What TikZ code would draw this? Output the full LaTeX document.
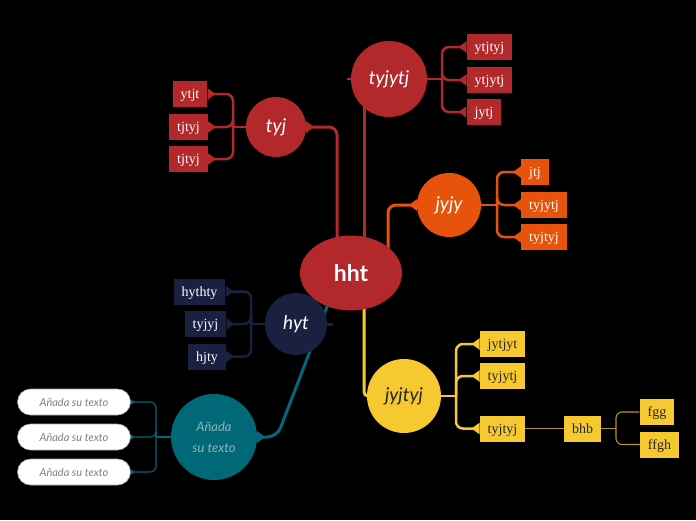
\documentclass[tikz,border=0pt]{standalone}
\usepackage{fontspec}
\setmainfont{Liberation Serif}
\newfontfamily\hand{Lato}
\usetikzlibrary{shapes.geometric,arrows.meta}
\definecolor{cred}{HTML}{B2282B}
\definecolor{corange}{HTML}{E8530B}
\definecolor{cnavy}{HTML}{1A2040}
\definecolor{cyellow}{HTML}{F7C931}
\definecolor{cyeldark}{HTML}{B8921E}
\definecolor{cteal}{HTML}{006877}
\definecolor{ctealtext}{HTML}{8DB4B9}
\pgfdeclarelayer{bg}
\pgfsetlayers{bg,main}
\begin{document}
\begin{tikzpicture}[x=1pt,y=-1pt,
  box/.style={rectangle, inner xsep=8pt, inner ysep=0pt, minimum height=26pt, text height=10pt, text depth=1pt, font=\fontsize{14}{16}\selectfont, text=white},
  circ/.style={circle, inner sep=0pt, font=\hand\itshape\fontsize{19}{22}\selectfont, text=white},
  pill/.style={rectangle, rounded corners=13pt, fill=white, draw=gray!70, line width=0.6pt, minimum width=113pt, minimum height=26pt, font=\hand\itshape\fontsize{11}{13}\selectfont, text=gray},
  con/.style={line width=3pt, rounded corners=8pt},
  br/.style={line width=2.5pt, rounded corners=7pt},
  thin/.style={line width=1.1pt, rounded corners=6pt},
  tap/.style={-{Triangle[reversed,length=8pt,width=11pt]}},
  smalltap/.style={-{Triangle[reversed,length=4pt,width=5pt]}}
]
\useasboundingbox (0,0) rectangle (696,520);

% main nodes
\node[circ, fill=cnavy, minimum size=62pt] (hyt) at (296,324) {hyt};
\node[ellipse, fill=cred, minimum width=102pt, minimum height=75pt, inner sep=0pt, text=white, font=\hand\bfseries\fontsize{23}{26}\selectfont] (hht) at (351,273) {hht};
\node[circ, fill=cred, minimum size=76pt] (tyjytj) at (389,79) {tyjytj};
\node[circ, fill=cred, minimum size=60pt] (tyj) at (276,127) {tyj};
\node[circ, fill=corange, minimum size=64pt] (jyjy) at (449,205) {jyjy};
\node[circ, fill=cyellow, minimum size=74pt, text=black!85] (jyjtyj) at (404,396) {jyjtyj};
\node[circ, fill=cteal, minimum size=86pt, text=ctealtext, font=\hand\itshape\fontsize{13}{21}\selectfont, align=center] (ana) at (214,437) {Añada\\su texto};

% children tyj
\node[box, fill=cred] (a1) at (190,94) {ytjt};
\node[box, fill=cred] (a2) at (188.5,127) {tjtyj};
\node[box, fill=cred] (a3) at (188.5,159) {tjtyj};
% children tyjytj
\node[box, fill=cred] (b1) at (489.5,47) {ytjtyj};
\node[box, fill=cred] (b2) at (489.5,80) {ytjytj};
\node[box, fill=cred] (b3) at (484,112) {jytj};
% children jyjy
\node[box, fill=corange] (c1) at (535,172) {jtj};
\node[box, fill=corange] (c2) at (544,205) {tyjytj};
\node[box, fill=corange] (c3) at (544,237) {tyjtyj};
% children hyt
\node[box, fill=cnavy] (d1) at (199.5,291.5) {hythty};
\node[box, fill=cnavy] (d2) at (205.5,324) {tyjyj};
\node[box, fill=cnavy] (d3) at (207,356.5) {hjty};
% children teal
\node[pill] (e1) at (74,402) {Añada su texto};
\node[pill] (e2) at (74,437) {Añada su texto};
\node[pill] (e3) at (74,472) {Añada su texto};
% children jyjtyj
\node[box, fill=cyellow, text=black!85] (f1) at (502.5,344) {jytjyt};
\node[box, fill=cyellow, text=black!85] (f2) at (502.5,376) {tyjytj};
\node[box, fill=cyellow, text=black!85] (f3) at (502.5,428.5) {tyjtyj};
\node[box, fill=cyellow, text=black!85] (g) at (582.5,428.5) {bhb};
\node[box, fill=cyellow, text=black!85] (h1) at (657,412) {fgg};
\node[box, fill=cyellow, text=black!85] (h2) at (659.5,444.5) {ffgh};

% helper coordinates
\coordinate (s1) at (337,260);
\coordinate (s2) at (364,255);
\coordinate (s3) at (388,260);
\coordinate (s4) at (364,290);
\coordinate (s5) at (340,273);
\coordinate (t2) at (364,100);
\coordinate (t2stub) at (347,79);
\coordinate (hytend) at (333,324);
\coordinate (bA) at (233,127);
\coordinate (bB) at (442,79);
\coordinate (bC) at (497,205);
\coordinate (bD) at (251,324);
\coordinate (bE) at (156,437);
\coordinate (bF) at (456,396);
\coordinate (bG) at (616,428.5);

\begin{pgfonlayer}{bg}
\fill[black] (0,0) rectangle (696,520);
% main connectors
\draw[con, cred, tap] (s1) -- (337,127) -- (tyj.east);
\draw[con, cred] (s2) -- (t2);
\draw[line width=2pt, cred] (tyjytj.west) -- (t2stub);
\draw[con, corange, tap] (s3) -- (388,205) -- (jyjy.west);
\draw[con, cyellow, rounded corners=4pt] (s4) -- (364,396) -- (jyjtyj.west);
\draw[con, cteal, tap, rounded corners=10pt] (s5) -- (277,437) -- (ana.east);
\draw[con, cnavy] (hyt.east) -- (hytend);
% tyj bracket
\draw[br, cred] (tyj.west) -- (bA);
\foreach \c in {a1,a2,a3} \draw[br, cred, tap] (bA) |- (\c.east);
% tyjytj bracket
\draw[br, cred] (tyjytj.east) -- (bB);
\foreach \c in {b1,b2,b3} \draw[br, cred, tap] (bB) |- (\c.west);
% jyjy bracket
\draw[br, corange] (jyjy.west) -- (bC);
\foreach \c in {c1,c2,c3} \draw[br, corange, tap] (bC) |- (\c.west);
% hyt bracket
\draw[br, cnavy] (hyt.west) -- (bD);
\foreach \c in {d1,d2,d3} \draw[br, cnavy, tap] (bD) |- (\c.east);
% teal bracket
\draw[thin, cteal] (ana.west) -- (bE);
\foreach \c in {e1,e2,e3} \draw[thin, cteal, smalltap] (bE) |- (\c.east);
% jyjtyj bracket
\draw[br, cyellow] (jyjtyj.east) -- (bF);
\foreach \c in {f1,f2,f3} \draw[br, cyellow, tap] (bF) |- (\c.west);
% bhb
\draw[thin, cyeldark] (f3.east) -- (g.west);
\draw[thin, cyeldark] (g.east) -- (bG);
\foreach \c in {h1,h2} \draw[thin, cyeldark] (bG) |- (\c.west);
\end{pgfonlayer}
\end{tikzpicture}
\end{document}
